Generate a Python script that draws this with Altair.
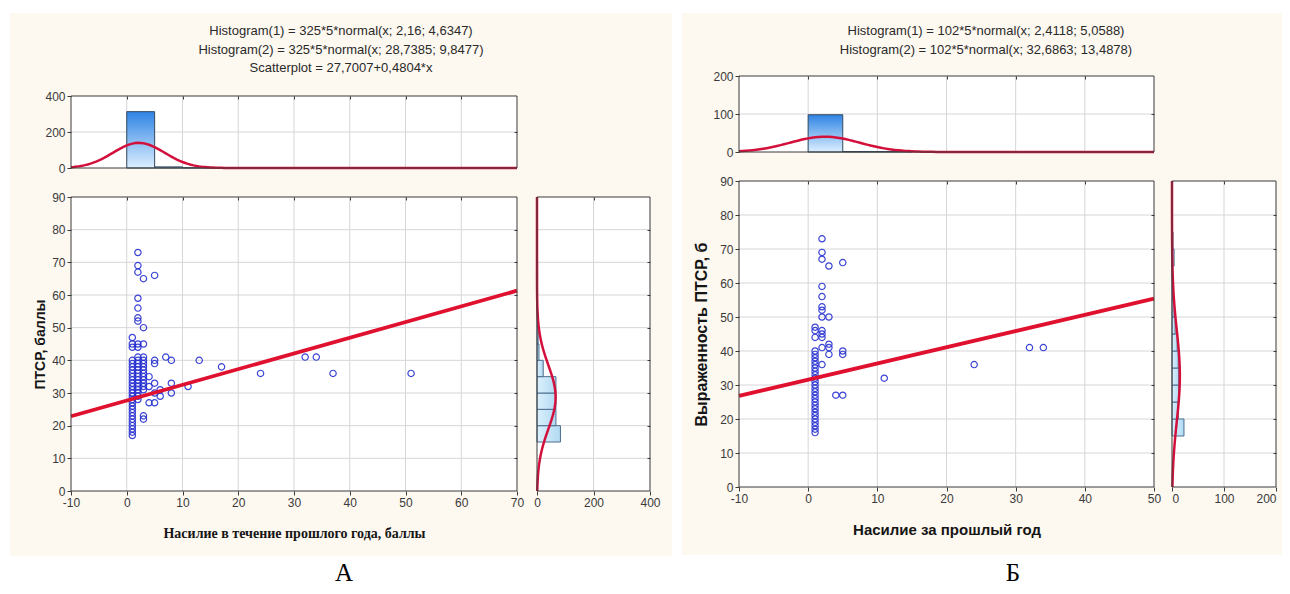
import altair as alt
import pandas as pd

# ---------------- texts ----------------
A_TITLE_LINES = ["Histogram(1) = 325*5*normal(x; 2,16; 4,6347)",
                 "Histogram(2) = 325*5*normal(x; 28,7385; 9,8477)",
                 "Scatterplot = 27,7007+0,4804*x"]
B_TITLE_LINES = ["Histogram(1) = 102*5*normal(x; 2,4118; 5,0588)",
                 "Histogram(2) = 102*5*normal(x; 32,6863; 13,4878)"]
A_X_TITLE = "Насилие в течение прошлого года, баллы"
A_Y_TITLE = "ПТСР, баллы"
B_X_TITLE = "Насилие за прошлый год"
B_Y_TITLE = "Выраженность ПТСР, б"
PANEL_LETTERS = ["А", "Б"]

# ---------------- tick values ----------------
A_X_TICKS = [-10, 0, 10, 20, 30, 40, 50, 60, 70]
B_X_TICKS = [-10, 0, 10, 20, 30, 40, 50]
Y_TICKS = [0, 10, 20, 30, 40, 50, 60, 70, 80, 90]
A_COUNT_TICKS = [0, 200, 400]
B_COUNT_TICKS = [0, 100, 200]

# ---------------- scatter A (x value -> y values) ----------------
A_COL_X = [1, 2, 3, 4, 5, 6, 7, 8, 11, 13, 17, 24, 32, 34, 37, 51]
A_COL_Y = [
    [17, 18, 19, 20, 21, 22, 23, 24, 25, 26, 27, 28, 29, 30, 31, 32, 33, 34, 35, 36, 37, 38, 39, 40, 44, 45, 47],
    [28, 29, 30, 31, 32, 33, 34, 35, 36, 37, 38, 39, 40, 41, 44, 45, 52, 53, 56, 59, 67, 69, 73],
    [22, 23, 31, 32, 33, 34, 35, 36, 37, 38, 39, 40, 41, 45, 50, 65],
    [27, 32, 35],
    [27, 30, 33, 39, 40, 66],
    [29, 31],
    [41],
    [30, 33, 40],
    [32],
    [40],
    [38],
    [36],
    [41],
    [41],
    [36],
    [36],
]

# ---------------- scatter B ----------------
B_COL_X = [1, 2, 3, 4, 5, 11, 24, 32, 34]
B_COL_Y = [
    [16, 17, 18, 19, 20, 21, 22, 23, 24, 25, 26, 27, 28, 29, 30, 31, 32, 33, 34, 35, 36, 37, 38, 39, 40, 44, 46, 47],
    [36, 41, 44, 45, 46, 50, 52, 53, 56, 59, 67, 69, 73],
    [39, 41, 42, 50, 65],
    [27],
    [27, 39, 40, 66],
    [32],
    [36],
    [41],
    [41],
]

# ---------------- histograms ----------------
BIN_WIDTH = 5
A_TOP_BIN = [0, 5, 10, 15, 20, 30, 35, 50]
A_TOP_COUNT = [313, 6, 1, 1, 1, 1, 1, 1]
A_SIDE_BIN = [15, 20, 25, 30, 35, 40, 45, 50, 55, 60, 65, 70]
A_SIDE_COUNT = [83, 67, 67, 67, 22, 7, 4, 3, 1, 1, 2, 1]
B_TOP_BIN = [0, 5, 10, 20, 30]
B_TOP_COUNT = [98, 1, 1, 1, 1]
B_SIDE_BIN = [15, 20, 25, 30, 35, 40, 45, 50, 55, 60, 65, 70]
B_SIDE_COUNT = [23, 12, 13, 13, 12, 10, 6, 4, 2, 1, 4, 2]

# fitted curves (N, mean, sd) and regression (intercept, slope)
A_N = 325
A_FIT_X = [2.16, 4.6347]
A_FIT_Y = [28.7385, 9.8477]
A_REG = [27.7007, 0.4804]
B_N = 102
B_FIT_X = [2.4118, 5.0588]
B_FIT_Y = [32.6863, 13.4878]
B_REG = [31.57, 0.477]

# ---------------- style ----------------
W, H = 1274, 578
CREAM = "#fdf8f0"
GRID = "#d6d6da"
FRAME = "#3a3a3a"
BLUE = "#2630d0"
RED = "#e0102f"
CURVE = "#d3103c"
LABEL_FONT = "Liberation Sans Narrow, Arial Narrow, Liberation Sans, sans-serif"
TOP_FILL = alt.Gradient(gradient="linear",
                        stops=[alt.GradientStop(color="#2f84e4", offset=0),
                               alt.GradientStop(color="#dcefff", offset=1)],
                        x1=0, x2=0, y1=0, y2=1)
SIDE_FILL = alt.Gradient(gradient="linear",
                         stops=[alt.GradientStop(color="#dcf0fc", offset=0),
                                alt.GradientStop(color="#b2daf3", offset=1)],
                         x1=0, x2=1, y1=0, y2=0)
MINUS_FIX = "replace(datum.label, '\u2212', '-')"


def P(v):
    return v - 8


def sc(dom, a, b):
    return alt.Scale(domain=dom, range=[P(a), P(b)], nice=False, zero=False)


ONE = pd.DataFrame({"k": [0]})


def box_df(xdom, ydom):
    return pd.DataFrame({"x0": [xdom[0]], "x1": [xdom[1]], "y0": [ydom[0]], "y1": [ydom[1]]})


def area(xdom, ydom, xs, ys, **mk):
    return alt.Chart(box_df(xdom, ydom)).mark_rect(**mk).encode(
        x=alt.X("x0:Q", scale=xs, axis=None), x2="x1:Q",
        y=alt.Y("y0:Q", scale=ys, axis=None), y2="y1:Q")


def in_axis(orient, offset, values):
    return alt.Axis(orient=orient, offset=offset, values=values, labels=False,
                    domain=False, grid=False, ticks=True, tickSize=3,
                    tickColor=FRAME, zindex=1, title=None)


def main_axis(orient, offset, values, title=None, tsize=14, tpad=4, tfont="Liberation Sans",
              flush=False):
    kw = dict(orient=orient, offset=offset, values=values, grid=False, domain=False,
              ticks=True, tickSize=4, tickColor=FRAME, labelFont=LABEL_FONT,
              labelFontSize=12, labelColor="#3a3a3a", labelPadding=2,
              labelFlush=flush, labelOverlap=False, zindex=1, labelExpr=MINUS_FIX)
    if title:
        kw.update(title=title, titleFont=tfont, titleFontSize=tsize,
                  titleFontWeight="bold", titleColor="#151515", titlePadding=tpad)
    else:
        kw["title"] = None
    return alt.Axis(**kw)


def vgrid(vals, ydom, xs, ys, axis):
    df = pd.DataFrame({"v": vals})
    df["y0"] = ydom[0]
    df["y1"] = ydom[1]
    return alt.Chart(df).mark_rule(color=GRID, strokeWidth=1).encode(
        x=alt.X("v:Q", scale=xs, axis=axis),
        y=alt.Y("y0:Q", scale=ys, axis=None), y2="y1:Q")


def hgrid(vals, xdom, xs, ys, axis):
    df = pd.DataFrame({"v": vals})
    df["x0"] = xdom[0]
    df["x1"] = xdom[1]
    return alt.Chart(df).mark_rule(color=GRID, strokeWidth=1).encode(
        y=alt.Y("v:Q", scale=ys, axis=axis),
        x=alt.X("x0:Q", scale=xs, axis=None), x2="x1:Q")


def panel(cfg):
    xdom, cdom, ydom = cfg["xdom"], cfg["cdom"], [0, 90]
    tx0, tx1, tyt, tyb = cfg["top"]
    mx0, mx1, myt, myb = cfg["main"]
    sx0, sx1, syt, syb = cfg["side"]
    cx0, cx1, cyt, cyb = cfg["cream"]
    xs = sc(xdom, mx0, mx1)
    ys = sc(ydom, myb, myt)
    tys = sc(cdom, tyb, tyt)
    sxs = sc(cdom, sx0, sx1)
    N = cfg["N"]
    L = []
    L.append(alt.Chart(ONE).mark_rect(fill=CREAM).encode(
        x=alt.value(P(cx0)), x2=alt.value(P(cx1)), y=alt.value(P(cyt)), y2=alt.value(P(cyb))))
    L += [area(xdom, cdom, xs, tys, fill="white"),
          area(xdom, ydom, xs, ys, fill="white"),
          area(cdom, ydom, sxs, ys, fill="white")]
    ix = cfg["xticks"][1:-1]
    iy = Y_TICKS[1:-1]
    ic = cfg["cticks"][1:-1]
    L += [vgrid(ix, cdom, xs, tys, in_axis("top", -(P(tyt) + 3), ix)),
          hgrid(ic, xdom, xs, tys, in_axis("right", P(tx1) - 3 - W, ic)),
          vgrid(ix, ydom, xs, ys, in_axis("top", -(P(myt) + 3), ix)),
          hgrid(iy, xdom, xs, ys, in_axis("right", P(mx1) - 3 - W, iy)),
          vgrid(ic, ydom, sxs, ys, in_axis("top", -(P(syt) + 3), ic)),
          hgrid(iy, cdom, sxs, ys, in_axis("right", P(sx1) - 3 - W, iy))]
    # top histogram
    tdf = pd.DataFrame({"start": cfg["top_bin"], "count": cfg["top_count"]})
    L.append(alt.Chart(tdf).transform_calculate(
        end=f"datum.start + {BIN_WIDTH}", base="0").mark_rect(
        fill=TOP_FILL, stroke="#34495e", strokeWidth=1).encode(
        x=alt.X("start:Q", scale=xs, axis=None), x2="end:Q",
        y=alt.Y("count:Q", scale=tys, axis=main_axis("left", -P(tx0), cfg["cticks"])),
        y2="base:Q"))
    mu, sd = cfg["fit_x"]
    L.append(alt.Chart(alt.sequence(xdom[0], xdom[1] + 0.1, 0.5, as_="v")).transform_calculate(
        f=f"{N}*{BIN_WIDTH}*densityNormal(datum.v, {mu}, {sd})").mark_line(
        color=CURVE, strokeWidth=2.5).encode(
        x=alt.X("v:Q", scale=xs, axis=None), y=alt.Y("f:Q", scale=tys, axis=None)))
    # side histogram
    sdf = pd.DataFrame({"start": cfg["side_bin"], "count": cfg["side_count"]})
    L.append(alt.Chart(sdf).transform_calculate(
        end=f"datum.start + {BIN_WIDTH}", base="0").mark_rect(
        fill=SIDE_FILL, stroke="#4b6e8e", strokeWidth=1).encode(
        x=alt.X("base:Q", scale=sxs,
                axis=main_axis("bottom", P(myb) - H, cfg["cticks"], flush=cfg["side_flush"])),
        x2="count:Q",
        y=alt.Y("start:Q", scale=ys, axis=None), y2="end:Q"))
    mu, sd = cfg["fit_y"]
    L.append(alt.Chart(alt.sequence(0, 90.1, 0.5, as_="v")).transform_calculate(
        f=f"{N}*{BIN_WIDTH}*densityNormal(datum.v, {mu}, {sd})").mark_line(
        color=CURVE, strokeWidth=2.5).encode(
        x=alt.X("f:Q", scale=sxs, axis=None), y=alt.Y("v:Q", scale=ys, axis=None),
        order="v:Q"))
    # scatter
    rows = [(x, y) for x, yl in zip(cfg["col_x"], cfg["col_y"]) for y in yl]
    pdf = pd.DataFrame(rows, columns=["x", "y"])
    L.append(alt.Chart(pdf).mark_point(shape="circle", filled=False, size=40,
                                       color=BLUE, strokeWidth=1.2, opacity=0.9).encode(
        x=alt.X("x:Q", scale=xs,
                axis=main_axis("bottom", P(myb) - H, cfg["xticks"], cfg["xtitle"],
                               cfg["xtsize"], cfg["xtpad"], cfg["xtfont"])),
        y=alt.Y("y:Q", scale=ys,
                axis=main_axis("left", -P(mx0), Y_TICKS, cfg["ytitle"],
                               cfg["ytsize"], cfg["ytpad"]))))
    a, b = cfg["reg"]
    rdf = pd.DataFrame({"x": xdom})
    L.append(alt.Chart(rdf).transform_calculate(y=f"{a} + {b}*datum.x").mark_line(
        color=RED, strokeWidth=3.8).encode(
        x=alt.X("x:Q", scale=xs, axis=None), y=alt.Y("y:Q", scale=ys, axis=None)))
    # frames
    L += [area(xdom, cdom, xs, tys, fillOpacity=0, stroke=FRAME, strokeWidth=1),
          area(xdom, ydom, xs, ys, fillOpacity=0, stroke=FRAME, strokeWidth=1),
          area(cdom, ydom, sxs, ys, fillOpacity=0, stroke=FRAME, strokeWidth=1)]
    # title lines
    L.append(alt.Chart(ONE).mark_text(font=LABEL_FONT, fontSize=13, color="#2a2a2a",
                                      lineBreak="\n", lineHeight=18.5, baseline="top",
                                      align="center").encode(
        x=alt.value(P(cfg["title_x"])), y=alt.value(P(cfg["title_y"])),
        text=alt.value("\n".join(cfg["title_lines"]))))
    # panel letter
    L.append(alt.Chart(ONE).mark_text(font="Liberation Serif", fontSize=25, color="#000",
                                      baseline="alphabetic", align="center").encode(
        x=alt.value(P(cfg["letter_x"])), y=alt.value(H - 5),
        text=alt.value(cfg["letter"])))
    return L


PANEL_A = dict(cream=(10, 672, 13, 556), top=(71, 517, 96, 168), main=(71, 517, 197, 491),
               side=(537, 650, 197, 491), xdom=[-10, 70], cdom=[0, 400],
               xticks=A_X_TICKS, cticks=A_COUNT_TICKS, N=A_N, side_flush=False,
               top_bin=A_TOP_BIN, top_count=A_TOP_COUNT, side_bin=A_SIDE_BIN, side_count=A_SIDE_COUNT,
               fit_x=A_FIT_X, fit_y=A_FIT_Y, reg=A_REG, col_x=A_COL_X, col_y=A_COL_Y,
               xtitle=A_X_TITLE, xtsize=14, xtpad=18, xtfont="Liberation Serif",
               ytitle=A_Y_TITLE, ytsize=14, ytpad=4,
               title_lines=A_TITLE_LINES, title_x=341, title_y=25,
               letter=PANEL_LETTERS[0], letter_x=344)
PANEL_B = dict(cream=(682, 1290, 13, 555), top=(739, 1154, 76, 152), main=(739, 1154, 181, 487),
               side=(1172, 1276, 181, 487), xdom=[-10, 50], cdom=[0, 200],
               xticks=B_X_TICKS, cticks=B_COUNT_TICKS, N=B_N, side_flush=True,
               top_bin=B_TOP_BIN, top_count=B_TOP_COUNT, side_bin=B_SIDE_BIN, side_count=B_SIDE_COUNT,
               fit_x=B_FIT_X, fit_y=B_FIT_Y, reg=B_REG, col_x=B_COL_X, col_y=B_COL_Y,
               xtitle=B_X_TITLE, xtsize=15, xtpad=18, xtfont="Liberation Sans",
               ytitle=B_Y_TITLE, ytsize=16, ytpad=10,
               title_lines=B_TITLE_LINES, title_x=986, title_y=25,
               letter=PANEL_LETTERS[1], letter_x=1013)

layers = panel(PANEL_A) + panel(PANEL_B)

chart = alt.layer(*layers).resolve_scale(x="independent", y="independent").properties(
    width=W, height=H, autosize=alt.AutoSizeParams(type="none"), padding=0,
    background="white").configure_view(stroke=None)

chart.save("out.html", embed_options={"renderer": "svg", "actions": False})
